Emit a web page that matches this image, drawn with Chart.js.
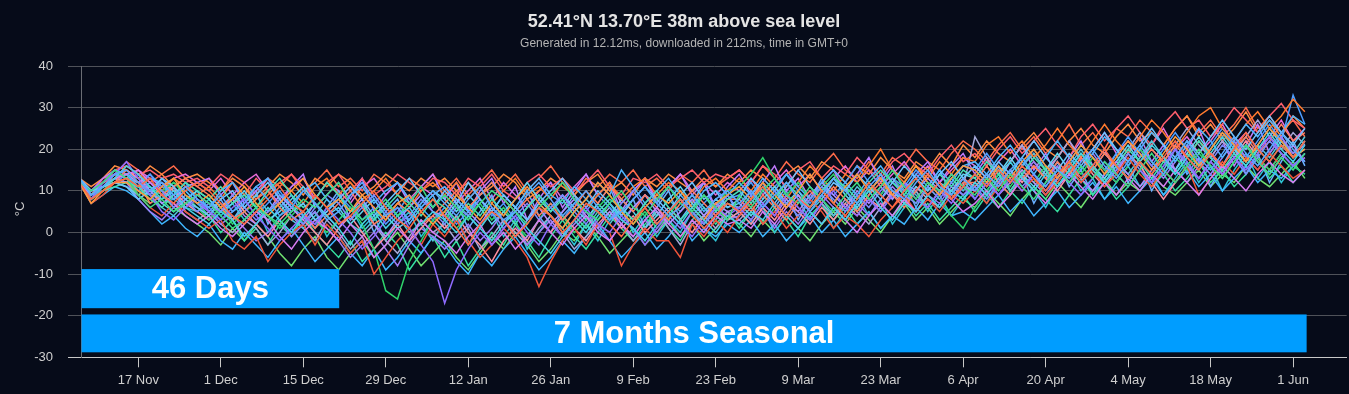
<!DOCTYPE html>
<html>
<head>
<meta charset="utf-8">
<title>52.41°N 13.70°E ensemble temperature</title>
<script src="https://cdn.jsdelivr.net/npm/chart.js@4.4.1/dist/chart.umd.min.js"></script>
<style>
  html, body { margin: 0; padding: 0; background: #060b19; }
  #wrap { width: 1349px; height: 394px; }
</style>
</head>
<body>
<div id="wrap"><canvas id="chart" width="1349" height="394"></canvas></div>
<script>
// days after 7 Nov, one value every second day
const memberDays = [0,2,4,6,8,10,12,14,16,18,20,22,24,26,28,30,32,34,36,38,40,42,44,46,48,50,52,54,56,58,60,62,64,66,68,70,72,74,76,78,80,82,84,86,88,90,92,94,96,98,100,102,104,106,108,110,112,114,116,118,120,122,124,126,128,130,132,134,136,138,140,142,144,146,148,150,152,154,156,158,160,162,164,166,168,170,172,174,176,178,180,182,184,186,188,190,192,194,196,198,200,202,204,206,208];

const tickDays = [10, 24, 38, 52, 66, 80, 94, 108, 122, 136, 150, 164, 178, 192, 206];
const tickLabels = ['17 Nov', '1 Dec', '15 Dec', '29 Dec', '12 Jan', '26 Jan', '9 Feb', '23 Feb', '9 Mar', '23 Mar', '6 Apr', '20 Apr', '4 May', '18 May', '1 Jun'];

// ensemble members, °C
const member01 = [13,9,11,14,15,12,10,12,9,11,8,6,9,5,7,11,8,4,6,10,7,3,5,9,12,8,4,6,3,7,10,7,4,8,11,6,3,5,9,12,8,4,7,10,6,3,5,8,11,7,4,6,9,5,8,10,7,10,6,9,12,8,5,9,13,10,7,11,14,10,8,12,15,11,9,13,10,14,11,15,18,14,11,15,13,17,20,16,13,17,21,17,14,18,22,18,15,19,23,19,16,20,24,20,17];
const member02 = [12,8,10,12,13,11,13,9,7,10,12,10,7,4,2,5,8,11,7,5,9,6,2,4,7,10,6,3,1,5,8,4,1,-3,2,5,3,-1,2,6,4,0,3,7,5,2,-1,3,6,2,5,8,4,1,4,7,5,8,11,7,4,8,6,10,7,4,8,12,9,6,10,13,9,12,8,11,14,11,15,12,16,13,10,14,17,13,16,20,16,13,17,14,18,22,18,15,19,16,20,24,20,17,21,18,22];
const member03 = [12,10,12,15,13,9,6,8,5,7,9,7,4,1,3,6,4,2,5,8,6,9,12,7,3,5,8,4,7,11,6,9,6,3,7,10,8,5,2,6,9,12,8,5,3,7,10,6,4,8,11,7,5,9,6,3,9,6,10,13,9,7,11,8,5,9,12,8,11,15,11,8,12,10,14,11,9,13,10,14,11,8,12,15,12,16,13,17,14,11,15,19,15,12,16,20,16,13,17,21,17,14,18,15,19];
const member04 = [13,9,11,13,16,14,11,8,10,6,4,2,5,3,-1,2,6,3,0,4,7,4,1,-3,2,5,1,4,6,2,5,3,0,4,1,-2,2,5,1,-2,-5,-1,3,0,4,7,3,1,-2,2,5,2,6,3,0,4,2,5,3,7,4,1,5,2,6,3,7,10,6,3,7,5,9,6,10,8,12,9,13,17,13,10,14,11,15,19,15,12,16,13,17,21,18,14,18,15,19,23,19,16,20,24,20,17,21];
const member05 = [12,7,10,12,12,10,8,11,13,9,7,9,6,8,11,7,4,7,10,13,9,6,8,5,9,6,3,7,9,5,2,5,9,6,3,7,4,8,11,7,4,1,5,8,12,9,5,2,6,9,7,10,6,3,7,9,11,8,12,9,6,10,14,10,7,11,14,10,13,9,12,16,12,9,13,16,15,12,16,13,17,20,16,13,17,21,18,14,18,22,19,15,19,23,20,16,20,24,21,17,21,25,22,18,20];
const member06 = [12,8,12,14,17,13,9,5,3,6,8,5,3,6,8,4,1,-2,1,4,2,6,3,0,-4,-1,3,6,1,-3,-7,-17,-9,-4,0,-3,1,4,0,-3,2,-1,3,6,2,0,4,1,-3,1,5,2,-1,3,6,4,6,3,7,4,9,6,3,7,10,6,4,8,5,9,12,8,6,10,7,11,8,12,9,13,10,14,11,15,12,9,13,17,14,11,15,12,16,20,17,13,17,14,18,15,19,23,19,16,18];
const member07 = [13,10,11,12,11,8,10,13,11,8,6,4,8,10,6,9,12,8,5,7,3,5,8,11,8,4,7,10,13,9,6,10,7,12,8,5,9,6,3,7,10,13,9,6,10,7,4,8,11,8,5,9,12,8,10,6,8,13,10,7,11,15,11,8,12,10,14,11,8,12,16,13,10,14,17,13,16,13,17,14,18,22,18,15,19,16,20,24,20,17,21,25,21,18,22,19,23,27,23,20,24,28,24,21,25];
const member08 = [12,9,11,13,14,15,12,9,7,4,2,4,1,-1,2,5,3,-1,-4,0,3,1,-2,2,-1,-6,-3,1,-2,3,0,-2,-5,-1,2,-3,0,-4,-1,3,0,-3,1,4,0,-2,2,-1,3,6,2,-1,3,0,4,2,3,1,5,2,6,9,5,2,6,3,0,4,7,4,8,5,9,12,8,5,7,10,6,9,13,10,7,11,14,11,8,12,9,13,10,14,11,15,12,9,13,16,13,10,14,17,14,12,15];
const member09 = [12,8,10,11,12,11,8,6,9,12,10,8,11,7,9,6,10,13,9,6,8,12,9,5,7,3,6,9,7,4,8,6,3,7,4,8,5,2,6,9,5,8,4,1,5,8,6,3,7,10,6,3,6,9,5,8,10,7,11,8,12,9,6,10,13,11,8,12,15,12,9,13,10,14,11,15,13,17,14,10,14,18,15,11,15,19,16,12,16,20,17,13,17,14,18,22,18,15,19,16,20,17,21,18,22];
const member10 = [13,10,12,14,13,10,12,10,6,8,5,7,5,9,6,3,5,8,4,2,6,9,7,3,6,9,5,2,4,8,5,2,6,4,8,5,1,4,7,3,6,9,5,2,6,3,7,10,6,2,5,8,5,2,6,9,5,9,6,10,7,4,8,11,8,5,9,6,10,13,9,7,11,8,12,9,11,8,12,15,11,14,10,13,17,13,16,12,15,19,15,12,16,20,16,13,17,21,18,14,18,22,19,16,19];
const member11 = [12,9,11,12,15,12,7,9,11,13,11,9,6,3,5,8,10,6,3,5,1,4,7,10,6,2,4,7,5,2,4,7,10,6,9,12,8,5,8,4,7,3,6,10,7,11,8,5,9,6,3,7,10,7,4,8,8,5,9,6,3,7,10,7,11,8,5,9,12,9,6,10,14,11,8,12,12,16,12,9,13,16,13,17,14,18,15,19,16,13,17,20,17,21,18,22,19,16,20,23,19,22,26,22,24];
const member12 = [12,7,9,12,13,9,6,4,7,5,3,1,3,-2,-4,-1,-7,-3,0,2,-3,2,-1,-5,-2,-10,-6,-2,1,-3,2,-1,3,-2,-6,-3,1,-2,-6,-13,-7,-2,1,-3,2,0,-8,-3,1,-2,-2,-6,2,-1,3,0,4,7,2,5,1,4,8,5,1,4,2,-1,3,6,9,5,8,5,9,7,10,7,11,14,10,13,9,12,16,12,15,11,14,18,14,11,15,12,16,9,13,17,14,18,15,19,16,13,15];
const member13 = [13,9,12,15,14,11,13,12,8,10,7,6,10,12,8,11,13,9,7,10,12,8,5,9,11,7,10,12,8,6,9,11,8,5,9,12,9,6,10,13,9,7,11,8,12,9,15,11,7,10,13,9,6,10,12,9,12,9,13,10,14,11,8,12,15,12,9,13,16,12,10,14,11,15,12,16,17,14,18,21,17,14,18,22,18,15,19,23,20,16,20,24,21,17,21,25,22,18,22,26,23,27,24,28,26];
const member14 = [12,10,11,13,12,14,10,7,9,6,9,7,5,8,4,2,5,9,6,3,7,4,1,5,8,2,-1,3,6,9,5,4,8,5,2,6,3,-1,3,6,2,5,8,4,1,5,2,6,9,5,2,5,8,4,7,5,6,10,7,4,8,5,9,12,9,6,10,7,11,8,12,10,13,10,14,11,10,13,9,12,15,12,9,13,16,13,10,14,17,14,11,15,18,15,12,16,19,15,18,21,17,14,18,21,17];
const member15 = [12,8,10,13,14,10,8,10,12,9,6,3,6,2,5,7,4,1,4,7,3,0,3,6,2,-4,-14,-16,-7,-2,3,5,1,4,7,3,6,2,-1,3,7,4,0,3,6,9,5,2,5,1,4,8,5,2,6,10,11,14,18,13,9,12,8,11,14,10,7,11,9,13,10,7,11,8,4,1,6,10,14,11,15,12,16,13,17,14,18,15,12,16,20,17,14,18,15,19,16,13,17,21,18,15,19,16,14];
const member16 = [13,9,11,12,11,9,11,7,5,8,10,8,5,7,10,6,3,5,8,11,7,4,6,2,5,8,4,1,3,7,10,8,5,9,6,2,5,8,12,8,5,9,6,3,7,4,8,5,1,4,8,11,7,4,8,6,7,4,8,11,7,10,6,9,13,9,6,10,13,10,7,11,9,12,10,14,13,10,14,18,14,11,15,19,15,12,16,13,17,21,17,14,18,15,19,23,19,16,20,17,21,25,21,18,20];
const member17 = [12,10,12,14,15,13,10,12,10,7,5,3,6,9,5,2,-1,3,6,3,0,-3,1,4,0,-4,-1,2,-2,1,4,1,4,0,-3,-7,-2,1,-2,3,0,4,1,-2,2,5,1,4,0,3,6,3,0,4,7,3,5,2,6,3,7,5,2,6,3,7,4,8,6,10,7,11,8,6,10,13,11,14,11,15,12,16,13,10,14,18,14,11,15,19,16,12,8,12,16,13,17,14,18,22,18,15,19,16,18];
const member18 = [12,8,10,12,12,8,5,3,6,9,7,5,2,4,1,-2,0,3,-1,2,5,1,-2,-6,-3,0,-4,-8,-3,1,-1,-4,-1,2,-2,1,5,2,-3,0,3,-1,2,5,1,-2,2,-1,3,0,4,1,5,2,5,3,4,8,5,1,5,2,6,9,6,3,7,4,8,11,8,5,9,7,11,9,12,9,13,10,14,17,13,16,12,15,19,15,12,16,20,16,13,17,21,17,14,18,22,18,15,19,23,19,21];
const member19 = [13,9,12,13,16,14,12,10,13,11,9,11,8,12,9,6,9,12,10,7,11,13,9,12,8,10,13,9,6,10,12,9,12,8,11,7,10,13,9,11,8,12,9,6,9,12,8,11,13,9,12,10,7,11,13,10,13,10,14,11,8,12,16,13,10,14,12,16,20,15,12,16,13,17,14,18,17,21,23,19,22,18,21,25,21,18,22,26,22,19,23,27,24,20,24,28,30,25,22,26,29,25,28,32,29];
const member20 = [12,8,11,13,12,10,9,6,4,7,6,4,7,3,6,9,5,7,3,1,4,8,5,2,0,3,7,4,0,2,-2,3,7,4,1,5,9,6,3,7,4,1,5,8,5,2,6,3,7,4,8,5,9,6,3,7,6,3,7,10,6,9,5,8,4,7,11,8,5,9,12,9,6,10,13,10,14,11,15,12,16,19,15,12,16,20,16,13,17,14,18,22,18,15,19,16,20,24,20,17,21,18,22,19,23];
const member21 = [12,9,10,12,14,11,14,11,9,12,8,6,3,5,8,4,7,10,6,4,2,5,9,6,3,6,2,5,9,6,3,6,2,5,8,4,7,3,6,9,6,3,7,5,9,6,3,6,9,7,11,8,4,7,10,8,9,12,8,11,14,10,7,11,9,12,16,12,9,13,11,15,12,9,13,16,15,19,15,12,16,20,16,13,17,21,18,15,19,23,19,16,20,24,20,17,21,25,21,18,22,26,22,33,26];
const member22 = [13,10,11,14,13,12,9,8,11,5,3,5,2,0,3,1,-3,0,4,1,-2,3,0,-4,-1,2,-2,-5,-1,3,0,2,-2,1,-4,-1,3,0,-3,1,4,0,-4,-1,3,6,2,-2,1,5,1,-3,2,4,1,5,3,6,2,5,9,6,3,7,4,8,5,2,6,9,7,10,6,10,8,11,23,18,14,17,21,17,14,18,22,18,15,19,16,20,24,20,17,21,25,21,18,22,19,23,27,23,20,24,21];
const member23 = [12,9,12,15,16,14,15,13,14,12,13,11,14,12,9,13,10,12,14,11,8,12,14,10,13,9,11,14,12,10,13,12,9,13,11,14,10,8,12,14,11,13,10,12,15,11,9,13,12,14,11,13,15,12,14,13,15,12,16,14,11,15,17,13,16,14,18,15,13,17,19,16,14,18,21,17,19,16,20,23,19,22,25,21,18,23,26,22,25,28,24,21,26,29,25,27,23,26,30,27,24,28,31,27,25];
const member24 = [12,7,9,11,10,8,5,2,4,1,-1,2,-2,-4,0,-3,-6,-2,1,-3,-7,-4,-1,-5,-8,-4,-9,-6,-2,-5,-1,-3,-7,-10,-5,-8,-4,-1,-5,-9,-6,-2,-5,-1,2,-2,-6,-3,0,-4,-1,3,-2,1,-1,2,0,3,-1,2,-2,1,4,0,3,-1,2,5,1,4,2,6,3,7,4,5,3,6,9,5,8,4,7,10,6,9,12,8,11,7,10,13,9,12,15,11,14,10,13,16,12,15,13,16,14];
const member25 = [12,10,13,15,14,12,14,10,8,11,12,13,9,12,7,10,13,8,11,14,6,9,12,8,13,5,9,12,7,11,14,8,12,5,10,13,7,11,3,8,12,6,10,14,9,12,5,10,13,7,11,14,9,12,6,11,14,9,12,16,10,13,8,12,15,10,14,18,12,16,10,14,17,12,16,19,14,18,12,17,21,15,19,13,18,22,16,20,14,19,23,17,21,15,20,25,18,22,16,21,26,19,23,18,22];
const member26 = [12,9,11,12,13,12,11,9,12,10,7,4,0,3,-2,1,-3,2,-1,4,0,-3,-6,-2,-7,-4,0,-3,-9,-5,-1,-6,-2,-8,-4,0,-3,2,-2,-6,-1,3,-1,-4,0,4,1,-2,2,5,1,-2,3,6,2,5,1,5,2,6,3,-1,4,7,3,6,2,5,1,4,8,4,7,3,6,9,5,9,6,10,7,11,8,5,9,13,9,12,8,11,15,11,14,10,13,17,12,15,11,14,18,13,16,12,15];
const member27 = [13,11,13,16,15,13,16,14,11,13,14,12,10,13,11,8,11,14,12,9,13,11,14,12,9,11,14,12,10,13,11,13,10,12,9,11,14,12,8,10,13,11,9,12,14,10,12,9,13,11,14,12,10,13,11,14,12,15,13,10,14,16,13,17,15,12,16,14,18,15,13,17,15,19,16,21,18,22,19,17,21,24,20,18,22,25,21,19,23,26,22,24,21,25,28,23,26,22,25,29,24,27,23,28,25];
const member28 = [12,8,11,13,12,11,9,13,10,8,10,5,8,3,7,10,2,6,9,4,1,6,10,3,7,0,5,8,2,6,9,3,7,1,5,9,2,6,10,4,0,5,9,3,7,11,4,8,1,6,10,3,7,12,5,9,4,8,12,6,10,3,8,13,7,11,5,9,14,8,12,6,11,15,9,13,8,12,16,10,14,7,12,17,11,15,9,14,19,12,17,10,15,20,14,18,11,16,21,14,19,12,17,22,16];
const member29 = [12,9,10,12,14,13,10,7,8,6,5,8,4,7,3,6,0,4,7,2,5,-1,3,6,1,4,-2,2,5,-1,3,0,4,-3,1,5,-1,3,-4,0,4,1,-3,2,-2,3,6,0,4,-1,3,0,5,1,-2,3,5,2,6,0,4,8,3,7,1,5,9,4,8,2,6,10,5,9,4,8,11,7,12,9,14,10,6,11,15,10,13,8,12,16,11,14,9,13,17,12,16,10,15,19,13,17,12,16,19];
const member30 = [13,10,12,14,13,15,13,11,13,14,12,10,13,9,12,14,10,7,11,13,8,12,10,7,11,13,9,12,8,11,9,11,7,10,13,8,12,9,6,10,12,8,11,14,9,12,7,10,13,8,11,14,10,12,9,12,10,13,9,12,15,11,14,10,13,16,12,15,11,14,17,13,16,12,15,18,16,13,17,20,16,19,15,18,22,17,20,24,19,22,18,21,25,20,23,19,22,26,21,24,20,23,27,22,25];
const member31 = [12,8,10,13,12,9,7,9,6,4,2,0,-3,1,-2,2,-1,-5,-8,-4,-1,-6,-9,-5,-2,-6,-3,0,-4,-8,-5,-2,-6,-9,-5,-1,-4,0,-3,-7,-4,0,-2,2,-1,-5,-2,1,-3,0,3,-1,2,-2,1,4,2,-1,3,0,4,1,-2,2,5,2,6,3,0,4,7,3,6,2,5,8,6,10,7,4,8,11,8,12,9,6,10,13,9,12,10,14,11,9,12,15,11,14,12,16,13,11,14,17,13];
const member32 = [12,9,13,14,17,15,12,14,16,13,11,13,10,14,12,9,13,11,14,10,12,15,11,13,10,14,12,9,13,11,14,10,13,9,12,15,11,14,10,13,16,12,9,13,11,14,12,15,11,13,10,14,12,15,11,13,15,12,16,13,17,14,12,16,19,15,13,17,14,18,16,20,17,15,19,22,20,17,21,24,20,23,19,22,26,21,24,20,25,23,27,24,21,25,28,24,27,23,26,30,25,28,24,27,23];

const members = [member01, member02, member03, member04, member05, member06, member07, member08, member09, member10, member11,
                 member12, member13, member14, member15, member16, member17, member18, member19, member20, member21, member22,
                 member23, member24, member25, member26, member27, member28, member29, member30, member31, member32];

const lineColors = ['#5aa9ff', '#ff6a45', '#3ddc84', '#45d4e6', '#ff9a3c', '#8f6bff', '#6fc3ff', '#d77cf2', '#47e0b5', '#7d8cff', '#ff7e5f',
                    '#f0553a', '#4fb6ff', '#b58cff', '#2fd36b', '#5fd8f0', '#ff8fa0', '#9e7cf5', '#ff7a2e', '#52c6d8', '#4d9dff', '#a6a8d8',
                    '#ff5f6d', '#3fb6ff', '#c07bff', '#36e0a0', '#ff8c42', '#6ab0ff', '#2ec4d6', '#e86cd8', '#70e070', '#ff6b4a'];

const fontFamily = '"Liberation Sans", Arial, Helvetica, sans-serif';
const bgColor = '#060b19';

// the two blue range bars, in axis units (days after 7 Nov, °C)
const rangeBars = [
    { label: '46 Days', from: 0.36, to: 44.1, top: -8.8, bottom: -18.2 },
    { label: '7 Months Seasonal', from: 0.36, to: 208.3, top: -19.7, bottom: -28.8 }
];

const overlay = {
    id: 'overlay',
    beforeDraw(chart) {
        const ctx = chart.ctx;
        ctx.save();
        ctx.fillStyle = bgColor;
        ctx.fillRect(0, 0, chart.width, chart.height);
        ctx.restore();
    },
    afterDraw(chart) {
        const ctx = chart.ctx;
        const x = chart.scales.x, y = chart.scales.y;
        ctx.save();

        // range bars
        rangeBars.forEach(bar => {
            const left = x.getPixelForValue(bar.from);
            const right = x.getPixelForValue(bar.to);
            const top = y.getPixelForValue(bar.top);
            const bottom = y.getPixelForValue(bar.bottom);
            ctx.fillStyle = '#009dff';
            ctx.fillRect(left, top, right - left, bottom - top);
            ctx.fillStyle = '#ffffff';
            ctx.font = 'bold 31px ' + fontFamily;
            ctx.textAlign = 'center';
            ctx.textBaseline = 'middle';
            ctx.fillText(bar.label, (left + right) / 2, (top + bottom) / 2 + 1);
        });

        // title + subtitle
        ctx.textAlign = 'center';
        ctx.textBaseline = 'alphabetic';
        ctx.fillStyle = '#e4e4e4';
        ctx.font = 'bold 18px ' + fontFamily;
        ctx.fillText('52.41°N 13.70°E 38m above sea level', 684, 26.5);
        ctx.fillStyle = '#b4b4b4';
        ctx.font = '12px ' + fontFamily;
        ctx.fillText('Generated in 12.12ms, downloaded in 212ms, time in GMT+0', 684, 46.5);

        // y axis title
        ctx.translate(20.5, 209);
        ctx.rotate(-Math.PI / 2);
        ctx.fillStyle = '#cfcfcf';
        ctx.font = '13px ' + fontFamily;
        ctx.textBaseline = 'middle';
        ctx.fillText('°C', 0, 0);
        ctx.restore();
    }
};

const datasets = members.map((values, i) => ({
    data: values.map((v, j) => ({ x: memberDays[j], y: v })),
    borderColor: lineColors[i % lineColors.length],
    borderWidth: 1.5,
    pointRadius: 0,
    fill: false,
    tension: 0
}));

new Chart(document.getElementById('chart'), {
    type: 'line',
    data: { datasets: datasets },
    options: {
        responsive: false,
        animation: false,
        events: [],
        layout: { padding: { top: 66, right: 2.3, bottom: 0, left: 0 } },
        plugins: {
            legend: { display: false },
            tooltip: { enabled: false },
            title: { display: false }
        },
        scales: {
            x: {
                type: 'linear',
                min: 0.36,
                max: 215.1,
                afterBuildTicks: scale => {
                    scale.ticks = tickDays.map(d => ({ value: d }));
                },
                afterFit: scale => { scale.height = 36.7; },
                grid: { drawOnChartArea: false, color: '#c8c8c8', tickLength: 10 },
                border: { color: '#c8c8c8' },
                ticks: {
                    autoSkip: false,
                    maxRotation: 0,
                    padding: 5,
                    color: '#cfcfcf',
                    font: { family: fontFamily, size: 13 },
                    callback: value => {
                        const i = tickDays.indexOf(value);
                        return i >= 0 ? tickLabels[i] : '';
                    }
                }
            },
            y: {
                min: -30,
                max: 40,
                afterFit: scale => { scale.width = 81.5; },
                grid: {
                    tickLength: 13.5,
                    color: ctx => (ctx.tick && ctx.tick.value === -30) ? '#c8c8c8' : '#4f5259'
                },
                border: { color: '#6a6d74' },
                ticks: {
                    stepSize: 10,
                    padding: 15,
                    color: '#cfcfcf',
                    font: { family: fontFamily, size: 13 }
                }
            }
        }
    },
    plugins: [overlay]
});
</script>
</body>
</html>
